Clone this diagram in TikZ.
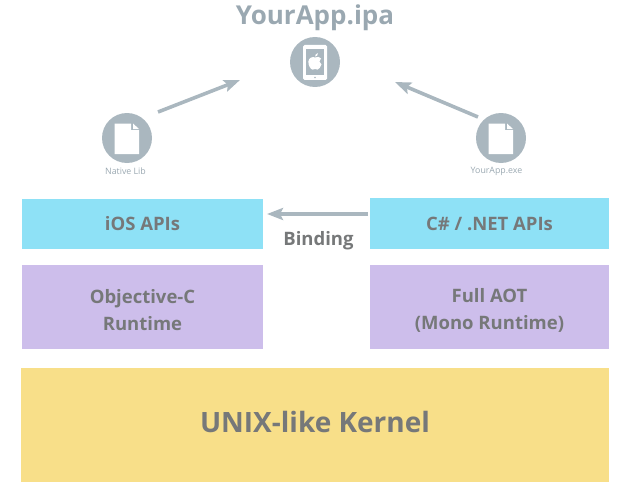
\documentclass[tikz,border=0pt]{standalone}
\usepackage{fontspec}
\setmainfont{Open Sans}
\usetikzlibrary{arrows.meta}
\definecolor{cblue}{HTML}{8EE1F6}
\definecolor{cpurple}{HTML}{CDBEEB}
\definecolor{cyellow}{HTML}{F8DF89}
\definecolor{cgrey}{HTML}{AAB7BF}
\definecolor{ctext}{HTML}{767879}
\definecolor{ctitle}{HTML}{9AA8B1}
\tikzset{
  x=1pt,y=-1pt,
  layerbox/.style={draw=none,inner sep=0pt,text=ctext,align=center,font=\fontsize{18.5}{27}\selectfont\bfseries},
  iconcircle/.style={circle,fill=cgrey,minimum size=50pt,inner sep=0pt},
  smalllabel/.style={text=ctitle,font=\fontsize{8.8}{10}\selectfont,inner sep=0pt},
  flow/.style={draw=cgrey,line width=3.6pt,-{Stealth[length=16pt,width=12pt,inset=3pt]}}
}
\begin{document}
\begin{tikzpicture}
\useasboundingbox (0,0) rectangle (635,495);
% boxes
\node[layerbox,fill=cblue,minimum width=241pt,minimum height=50pt] (ios) at (142.5,224) {iOS APIs};
\node[layerbox,fill=cblue,minimum width=239pt,minimum height=51pt] (net) at (489.5,223.5) {C\# / .NET APIs};
\node[layerbox,fill=cpurple,minimum width=241pt,minimum height=84pt] (objc) at (142.5,307) {\rule{0pt}{21pt}Objective-C\\Runtime};
\node[layerbox,fill=cpurple,minimum width=239pt,minimum height=84pt] (aot) at (489.5,307) {\rule{0pt}{21pt}Full AOT\\(Mono Runtime)};
\node[layerbox,fill=cyellow,minimum width=588pt,minimum height=114pt,font=\fontsize{28}{36}\selectfont\bfseries] (kernel) at (315,425) {UNIX-like Kernel\rule[-7pt]{0pt}{7pt}};
\node[inner sep=0pt,text=ctext,font=\fontsize{18.5}{22}\selectfont\bfseries] (binding) at (318.5,241) {Binding};
% title and icons
\node[inner sep=0pt,text=ctitle,font=\fontsize{26}{30}\selectfont\bfseries] (title) at (315,18) {YourApp.ipa};
\node[iconcircle] (ipa) at (315,62) {};
\node[iconcircle] (native) at (127,138) {};
\node[iconcircle] (exe) at (501,138) {};
\node[smalllabel] (nativelabel) at (125.5,171) {Native Lib};
\node[smalllabel] (exelabel) at (496.5,171) {YourApp.exe};
% phone glyph
\fill[white,rounded corners=1.5pt] (303,45) rectangle (327,80);
\fill[cgrey] (306,49) rectangle (324,75);
\fill[cgrey] (315,77.5) circle (0.9pt);
% apple glyph
\fill[white] (315.2,57.5) .. controls (317,56.4) and (320,56.6) .. (321,58.5)
  .. controls (318.6,60) and (319,63.4) .. (321.5,64.4)
  .. controls (320.6,67) and (319,69.6) .. (317.4,69.6)
  .. controls (316.4,69.6) and (316,69) .. (315,69)
  .. controls (314,69) and (313.6,69.6) .. (312.6,69.6)
  .. controls (310.6,69.6) and (308,65) .. (308.4,61.4)
  .. controls (308.7,57.6) and (312.6,56.4) .. (315.2,57.5) -- cycle;
\fill[white] (315,56.6) .. controls (315,54.8) and (316.4,53.4) .. (318,53.2)
  .. controls (318,55) and (316.8,56.6) .. (315,56.6) -- cycle;
% document glyphs
\foreach \cx in {127,501}{
  \fill[white] (\cx-12.5,123.5) -- (\cx+4,123.5) -- (\cx+4,130) -- (\cx+12,130) -- (\cx+12,154) -- (\cx-12.5,154) -- cycle;
  \fill[white] (\cx+6,123.5) -- (\cx+12,129) -- (\cx+6,129) -- cycle;
}
% connectors
\coordinate (nstart) at (158,112);
\coordinate (nend) at (240,80);
\coordinate (estart) at (478,117);
\coordinate (eend) at (395,82);
\coordinate (bstart) at (368,214);
\coordinate (bend) at (267,214);
\draw[flow] (nstart) -- (nend);
\draw[flow] (estart) -- (eend);
\draw[flow] (bstart) -- (bend);
\end{tikzpicture}
\end{document}
